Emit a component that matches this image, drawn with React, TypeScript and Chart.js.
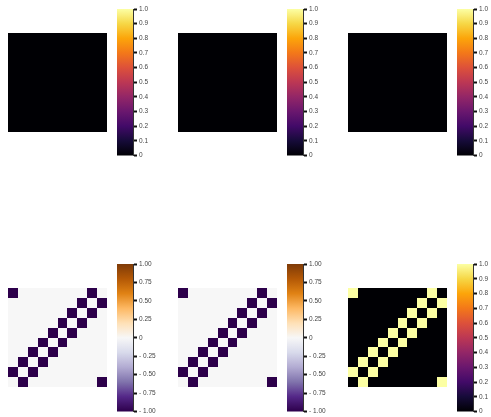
import React, { useEffect, useRef } from 'react';
import { Chart, registerables } from 'chart.js';

Chart.register(...registerables);

type Stop = [number, string];

// ---------- data ----------
const N = 10;
const categories = ['0', '1', '2', '3', '4', '5', '6', '7', '8', '9'];

const zeroMatrix: number[][] = [
  [0, 0, 0, 0, 0, 0, 0, 0, 0, 0],
  [0, 0, 0, 0, 0, 0, 0, 0, 0, 0],
  [0, 0, 0, 0, 0, 0, 0, 0, 0, 0],
  [0, 0, 0, 0, 0, 0, 0, 0, 0, 0],
  [0, 0, 0, 0, 0, 0, 0, 0, 0, 0],
  [0, 0, 0, 0, 0, 0, 0, 0, 0, 0],
  [0, 0, 0, 0, 0, 0, 0, 0, 0, 0],
  [0, 0, 0, 0, 0, 0, 0, 0, 0, 0],
  [0, 0, 0, 0, 0, 0, 0, 0, 0, 0],
  [0, 0, 0, 0, 0, 0, 0, 0, 0, 0],
];

const negRingMatrix: number[][] = [
  [-1, 0, 0, 0, 0, 0, 0, 0, -1, 0],
  [0, 0, 0, 0, 0, 0, 0, -1, 0, -1],
  [0, 0, 0, 0, 0, 0, -1, 0, -1, 0],
  [0, 0, 0, 0, 0, -1, 0, -1, 0, 0],
  [0, 0, 0, 0, -1, 0, -1, 0, 0, 0],
  [0, 0, 0, -1, 0, -1, 0, 0, 0, 0],
  [0, 0, -1, 0, -1, 0, 0, 0, 0, 0],
  [0, -1, 0, -1, 0, 0, 0, 0, 0, 0],
  [-1, 0, -1, 0, 0, 0, 0, 0, 0, 0],
  [0, -1, 0, 0, 0, 0, 0, 0, 0, -1],
];

const posRingMatrix: number[][] = [
  [1, 0, 0, 0, 0, 0, 0, 0, 1, 0],
  [0, 0, 0, 0, 0, 0, 0, 1, 0, 1],
  [0, 0, 0, 0, 0, 0, 1, 0, 1, 0],
  [0, 0, 0, 0, 0, 1, 0, 1, 0, 0],
  [0, 0, 0, 0, 1, 0, 1, 0, 0, 0],
  [0, 0, 0, 1, 0, 1, 0, 0, 0, 0],
  [0, 0, 1, 0, 1, 0, 0, 0, 0, 0],
  [0, 1, 0, 1, 0, 0, 0, 0, 0, 0],
  [1, 0, 1, 0, 0, 0, 0, 0, 0, 0],
  [0, 1, 0, 0, 0, 0, 0, 0, 0, 1],
];

const infernoTickValues = [0, 0.1, 0.2, 0.3, 0.4, 0.5, 0.6, 0.7, 0.8, 0.9, 1.0];
const infernoTickLabels = ['0', '0.1', '0.2', '0.3', '0.4', '0.5', '0.6', '0.7', '0.8', '0.9', '1.0'];

const puorTickValues = [-1, -0.75, -0.5, -0.25, 0, 0.25, 0.5, 0.75, 1];
const puorTickLabels = ['- 1.00', '- 0.75', '- 0.50', '- 0.25', '0', '0.25', '0.50', '0.75', '1.00'];

// ---------- colormaps ----------
const inferno: Stop[] = [
  [0.0, '#000004'], [0.1, '#160b39'], [0.2, '#420a68'], [0.3, '#6a176e'],
  [0.4, '#932667'], [0.5, '#bc3754'], [0.6, '#dd513a'], [0.7, '#f37819'],
  [0.8, '#fca50a'], [0.9, '#f6d746'], [1.0, '#fcffa4'],
];
const puor: Stop[] = [
  [0.0, '#2d004b'], [0.1, '#542788'], [0.2, '#8073ac'], [0.3, '#b2abd2'],
  [0.4, '#d8daeb'], [0.5, '#f7f7f7'], [0.6, '#fee0b6'], [0.7, '#fdb863'],
  [0.8, '#e08214'], [0.9, '#b35806'], [1.0, '#7f3b08'],
];

function hexToRgb(h: string): number[] {
  const s = h.replace('#', '');
  return [parseInt(s.slice(0, 2), 16), parseInt(s.slice(2, 4), 16), parseInt(s.slice(4, 6), 16)];
}
function cmapColor(stops: Stop[], f: number): string {
  const t = Math.max(0, Math.min(1, f));
  for (let i = 0; i < stops.length - 1; i++) {
    const [a, ca] = stops[i];
    const [b, cb] = stops[i + 1];
    if (t >= a && t <= b) {
      const k = (t - a) / (b - a);
      const A = hexToRgb(ca), B = hexToRgb(cb);
      return `rgb(${Math.round(A[0] + (B[0] - A[0]) * k)},${Math.round(A[1] + (B[1] - A[1]) * k)},${Math.round(A[2] + (B[2] - A[2]) * k)})`;
    }
  }
  return stops[stops.length - 1][1];
}

// ---------- plugins ----------
const heatmapCells = {
  id: 'heatmapCells',
  beforeDatasetsDraw(chart: any, _args: any, opts: any) {
    const xs = chart.scales.x, ys = chart.scales.y;
    const ctx = chart.ctx;
    const data = chart.data.datasets[0].data as any[];
    ctx.save();
    for (const p of data) {
      const x0 = Math.round(xs.getPixelForValue(p.x - 0.5));
      const x1 = Math.round(xs.getPixelForValue(p.x + 0.5));
      const y0 = Math.round(ys.getPixelForValue(p.y + 0.5));
      const y1 = Math.round(ys.getPixelForValue(p.y - 0.5));
      ctx.fillStyle = cmapColor(opts.cmap, (p.v - opts.vmin) / (opts.vmax - opts.vmin));
      ctx.fillRect(x0, y0, x1 - x0, y1 - y0);
    }
    ctx.restore();
  },
};

const colorbarFill = {
  id: 'colorbarFill',
  beforeDatasetsDraw(chart: any, _args: any, opts: any) {
    const ys = chart.scales.y;
    const { left, right } = chart.chartArea;
    const yb = ys.getPixelForValue(opts.vmin);
    const yt = ys.getPixelForValue(opts.vmax);
    const ctx = chart.ctx;
    const g = ctx.createLinearGradient(0, yb, 0, yt);
    for (const [f, c] of opts.cmap as Stop[]) g.addColorStop(f, c);
    ctx.save();
    ctx.fillStyle = g;
    ctx.fillRect(left, yt, right - left, yb - yt);
    ctx.restore();
  },
};

// ---------- components ----------
function Heatmap(props: { matrix: number[][]; cmap: Stop[]; vmin: number; vmax: number; left: number; top: number; size: number }) {
  const ref = useRef<HTMLCanvasElement>(null);
  useEffect(() => {
    const pts: any[] = [];
    props.matrix.forEach((row, r) => row.forEach((v, c) => pts.push({ x: c + 0.5, y: N - r - 0.5, v })));
    const chart = new Chart(ref.current!, {
      type: 'scatter',
      data: { labels: categories, datasets: [{ data: pts, pointRadius: 0, pointHoverRadius: 0 }] },
      options: {
        animation: false,
        responsive: false,
        events: [],
        layout: { padding: 0 },
        scales: {
          x: { type: 'linear', min: 0, max: N, display: false },
          y: { type: 'linear', min: 0, max: N, display: false },
        },
        plugins: {
          legend: { display: false },
          tooltip: { enabled: false },
          heatmapCells: { cmap: props.cmap, vmin: props.vmin, vmax: props.vmax },
        } as any,
      },
      plugins: [heatmapCells],
    });
    return () => chart.destroy();
  }, []);
  return (
    <canvas
      ref={ref}
      width={props.size}
      height={props.size}
      style={{ position: 'absolute', left: props.left, top: props.top, width: props.size, height: props.size }}
    />
  );
}

function Colorbar(props: {
  cmap: Stop[]; vmin: number; vmax: number; values: number[]; labels: string[];
  left: number; top: number; height: number; font: string;
}) {
  const ref = useRef<HTMLCanvasElement>(null);
  const padTop = 6, padBottom = 6, axisW = 40, barW = 16;
  const cw = barW + axisW;
  const ch = Math.round(props.height + padTop + padBottom);
  useEffect(() => {
    const chart = new Chart(ref.current!, {
      type: 'scatter',
      data: { datasets: [{ data: [], pointRadius: 0 }] },
      options: {
        animation: false,
        responsive: false,
        events: [],
        layout: { padding: { top: padTop, bottom: ch - padTop - props.height, left: 0, right: 0 } },
        scales: {
          x: { type: 'linear', display: false },
          y: {
            type: 'linear',
            position: 'right',
            min: props.vmin,
            max: props.vmax,
            afterBuildTicks: (scale: any) => {
              scale.ticks = props.values.map((v) => ({ value: v }));
            },
            afterFit: (scale: any) => {
              scale.width = axisW;
            },
            ticks: {
              autoSkip: false,
              padding: 2,
              color: '#444',
              font: { family: props.font, size: 6.5 },
              callback: (v: any) => {
                const i = props.values.findIndex((x) => Math.abs(x - Number(v)) < 1e-9);
                return i >= 0 ? props.labels[i] : '';
              },
            },
            grid: { drawOnChartArea: false, drawTicks: true, tickLength: 4, tickWidth: 2, tickColor: '#111' },
            border: { display: true, color: '#333', width: 1 },
          },
        },
        plugins: {
          legend: { display: false },
          tooltip: { enabled: false },
          colorbarFill: { cmap: props.cmap, vmin: props.vmin, vmax: props.vmax },
        } as any,
      },
      plugins: [colorbarFill],
    });
    return () => chart.destroy();
  }, []);
  return (
    <canvas
      ref={ref}
      width={cw}
      height={ch}
      style={{ position: 'absolute', left: props.left, top: props.top - padTop, width: cw, height: ch }}
    />
  );
}

const SANS = "'Liberation Sans', Arial, sans-serif";
const NARROW = "'Liberation Sans Narrow', 'Liberation Sans', Arial, sans-serif";

export default function App() {
  const colsHeat = [8, 178, 348];
  const colsBar = [117, 287, 457];
  return (
    <div style={{ position: 'absolute', left: 0, top: 0, width: 491, height: 417, background: '#fff', overflow: 'hidden' }}>
      {[0, 1, 2].map((i) => (
        <React.Fragment key={'t' + i}>
          <Heatmap matrix={zeroMatrix} cmap={inferno} vmin={0} vmax={1} left={colsHeat[i]} top={33} size={99} />
          <Colorbar cmap={inferno} vmin={0} vmax={1} values={infernoTickValues} labels={infernoTickLabels}
            left={colsBar[i]} top={9} height={146.5} font={SANS} />
        </React.Fragment>
      ))}
      <Heatmap matrix={negRingMatrix} cmap={puor} vmin={-1} vmax={1} left={colsHeat[0]} top={288} size={99} />
      <Colorbar cmap={puor} vmin={-1} vmax={1} values={puorTickValues} labels={puorTickLabels}
        left={colsBar[0]} top={263.5} height={147.5} font={NARROW} />
      <Heatmap matrix={negRingMatrix} cmap={puor} vmin={-1} vmax={1} left={colsHeat[1]} top={288} size={99} />
      <Colorbar cmap={puor} vmin={-1} vmax={1} values={puorTickValues} labels={puorTickLabels}
        left={colsBar[1]} top={263.5} height={147.5} font={NARROW} />
      <Heatmap matrix={posRingMatrix} cmap={inferno} vmin={0} vmax={1} left={colsHeat[2]} top={288} size={99} />
      <Colorbar cmap={inferno} vmin={0} vmax={1} values={infernoTickValues} labels={infernoTickLabels}
        left={colsBar[2]} top={263.5} height={147.5} font={SANS} />
    </div>
  );
}
